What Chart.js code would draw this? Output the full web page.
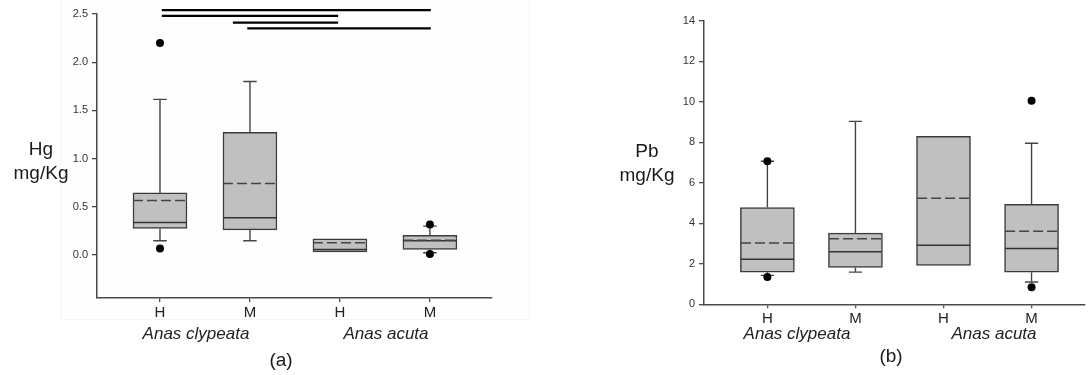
<!DOCTYPE html>
<html lang="pt-BR">
<head>
<meta charset="utf-8">
<title>Hg e Pb por espécie e sexo</title>
<script src="https://cdn.jsdelivr.net/npm/chart.js@4.4.1/dist/chart.umd.min.js"></script>
<style>
    body { margin: 0; width: 1089px; height: 375px; position: relative; overflow: hidden; background: #fff;
           font-family: "Liberation Sans", Arial, sans-serif; color: #1a1a1a; }
    canvas { position: absolute; top: 0; }
    #graficoHg { left: 0; }
    #graficoPb { left: 545px; }
    .moldura { position: absolute; left: 60px; top: -1px; width: 468px; height: 319px; border: 1px solid #f5f5f5; background: #fefefe; }
    .texto { position: absolute; white-space: nowrap; line-height: 1; transform: translateX(-50%); }
    .eixoY { font-size: 19px; line-height: 24px; text-align: center; }
    .especie { font-size: 17px; font-style: italic; color: #222; }
    .painel { font-size: 19px; }
</style>
</head>
<body>
<div class="moldura"></div>
<canvas id="graficoHg" width="545" height="375"></canvas>
<canvas id="graficoPb" width="544" height="375"></canvas>

<div class="texto eixoY" style="left:41px; top:137px;">Hg<br>mg/Kg</div>
<div class="texto eixoY" style="left:647px; top:139px;">Pb<br>mg/Kg</div>
<div class="texto especie" style="left:196px; top:325px;">Anas clypeata</div>
<div class="texto especie" style="left:386px; top:325px;">Anas acuta</div>
<div class="texto especie" style="left:797px; top:325px;">Anas clypeata</div>
<div class="texto especie" style="left:994px; top:325px;">Anas acuta</div>
<div class="texto painel" style="left:281px; top:350px;">(a)</div>
<div class="texto painel" style="left:891px; top:346px;">(b)</div>

<script>
// Grupos: sexo (H/M) dentro de cada espécie
const grupos = ['H', 'M', 'H', 'M'];

// Mercúrio (mg/Kg)
const hgQ1 = [0.276, 0.262, 0.034, 0.059];
const hgQ3 = [0.645, 1.273, 0.169, 0.204];
const hgMediana = [0.338, 0.386, 0.059, 0.148];
const hgMedia = [0.566, 0.742, 0.127, 0.155];
const hgBigodeInf = [0.148, 0.148, null, 0.024];
const hgBigodeSup = [1.615, 1.80, null, 0.30];
const hgOutliers = [[2.20, 0.069], [], [], [0.318, 0.01]];
const hgMarcas = [0, 0.5, 1.0, 1.5, 2.0, 2.5];

// Barras de diferença significativa entre grupos
const sigInicio = [1.02, 1.02, 1.81, 1.97];
const sigFim = [4.01, 2.98, 2.98, 4.01];
const sigNivel = [2.54, 2.48, 2.41, 2.35];

// Chumbo (mg/Kg)
const pbQ1 = [1.58, 1.82, 1.92, 1.58];
const pbQ3 = [4.78, 3.51, 8.29, 4.93];
const pbMediana = [2.23, 2.59, 2.92, 2.76];
const pbMedia = [3.03, 3.23, 5.24, 3.60];
const pbBigodeInf = [1.43, 1.59, null, 1.10];
const pbBigodeSup = [7.06, 9.03, null, 7.95];
const pbOutliers = [[7.06, 1.35], [], [], [10.05, 0.84]];
const pbMarcas = [0, 2, 4, 6, 8, 10, 12, 14];

Chart.defaults.font.family = '"Liberation Sans", Arial, sans-serif';

const MEIA_CAIXA = 0.3;
const ABA = 0.075;
const corEixo = '#4a4a4a';

// Monta os datasets de um boxplot (caixa, bigodes, mediana, média, outliers)
const montarBoxplot = (q1, q3, mediana, media, bigodeInf, bigodeSup, outliers) => {
    const posicoes = grupos.map((_, i) => i + 1);

    const caixas = posicoes.map((x, i) => ({ x, y: [q1[i], q3[i]] }));

    const bigodes = [];
    posicoes.forEach((x, i) => {
        if (bigodeSup[i] != null) {
            bigodes.push({ x, y: q3[i] }, { x, y: bigodeSup[i] }, { x, y: null });
            bigodes.push({ x: x - ABA, y: bigodeSup[i] }, { x: x + ABA, y: bigodeSup[i] }, { x, y: null });
        }
        if (bigodeInf[i] != null) {
            bigodes.push({ x, y: q1[i] }, { x, y: bigodeInf[i] }, { x, y: null });
            bigodes.push({ x: x - ABA, y: bigodeInf[i] }, { x: x + ABA, y: bigodeInf[i] }, { x, y: null });
        }
    });

    const linhaHorizontal = (valores) => posicoes.flatMap((x, i) => [
        { x: x - MEIA_CAIXA, y: valores[i] }, { x: x + MEIA_CAIXA, y: valores[i] }, { x, y: null }
    ]);

    const pontos = posicoes.flatMap((x, i) => outliers[i].map(y => ({ x, y })));

    return [
        { type: 'bar', data: caixas, backgroundColor: '#c0c0c0', borderColor: '#3c3c3c',
          borderWidth: 1.5, borderSkipped: false, barThickness: 54, order: 6 },
        { type: 'line', data: bigodes, borderColor: '#444', borderWidth: 1.4, pointRadius: 0, tension: 0, order: 5 },
        { type: 'line', data: linhaHorizontal(mediana), borderColor: '#333', borderWidth: 1.5, pointRadius: 0, order: 4 },
        { type: 'line', data: linhaHorizontal(media), borderColor: '#444', borderWidth: 1.5, borderDash: [10, 4],
          pointRadius: 0, order: 3 },
        { type: 'line', data: pontos, showLine: false, pointRadius: 4, pointBackgroundColor: '#000',
          pointBorderWidth: 0, order: 2 }
    ];
};

// O gráfico de barras desloca o eixo x por padrão (offset); aqui as posições são absolutas
const eixoX = (min, max) => ({
    type: 'linear', min, max, offset: false,
    afterBuildTicks: (eixo) => { eixo.ticks = grupos.map((_, i) => ({ value: i + 1 })); },
    afterFit: (eixo) => { eixo.height = 30; },
    ticks: { callback: (v, i) => grupos[i], font: { size: 15 }, color: '#222', padding: 2,
             autoSkip: false, maxRotation: 0 },
    grid: { offset: false, drawOnChartArea: false, tickLength: 4, color: corEixo, lineWidth: 1.3 },
    border: { color: corEixo, width: 1.5 }
});

const eixoY = (min, max, marcas, formato) => ({
    min, max,
    afterBuildTicks: (eixo) => { eixo.ticks = marcas.map(v => ({ value: v })); },
    afterFit: (eixo) => { eixo.width = 40; },
    ticks: { callback: formato, font: { size: 11 }, color: '#333', padding: 4 },
    grid: { drawOnChartArea: false, tickLength: 5, color: corEixo, lineWidth: 1.3 },
    border: { color: corEixo, width: 1.5 }
});

const opcoesBase = (padding, escalas) => ({
    responsive: false,
    animation: false,
    devicePixelRatio: 1,
    layout: { padding },
    plugins: { legend: { display: false }, tooltip: { enabled: false } },
    scales: escalas
});

// Painel (a): mercúrio
const linhasSig = sigInicio.flatMap((x0, i) => [
    { x: x0, y: sigNivel[i] }, { x: sigFim[i], y: sigNivel[i] }, { x: x0, y: null }
]);

new Chart(document.getElementById('graficoHg'), {
    type: 'bar',
    data: {
        datasets: [
            ...montarBoxplot(hgQ1, hgQ3, hgMediana, hgMedia, hgBigodeInf, hgBigodeSup, hgOutliers),
            { type: 'line', data: linhasSig, borderColor: '#000', borderWidth: 2.2, pointRadius: 0,
              clip: false, order: 1 }
        ]
    },
    options: opcoesBase({ left: 57, right: 53, top: 14, bottom: 47 }, {
        x: eixoX(0.3, 4.69),
        y: eixoY(-0.445, 2.5, hgMarcas, (v) => v.toFixed(1))
    })
});

// Painel (b): chumbo
new Chart(document.getElementById('graficoPb'), {
    type: 'bar',
    data: {
        datasets: montarBoxplot(pbQ1, pbQ3, pbMediana, pbMedia, pbBigodeInf, pbBigodeSup, pbOutliers)
    },
    options: opcoesBase({ left: 119, right: 0, top: 20.7, bottom: 40.7 }, {
        x: eixoX(0.28, 4.607),
        y: eixoY(0, 14, pbMarcas, (v) => String(v))
    })
});
</script>
</body>
</html>
